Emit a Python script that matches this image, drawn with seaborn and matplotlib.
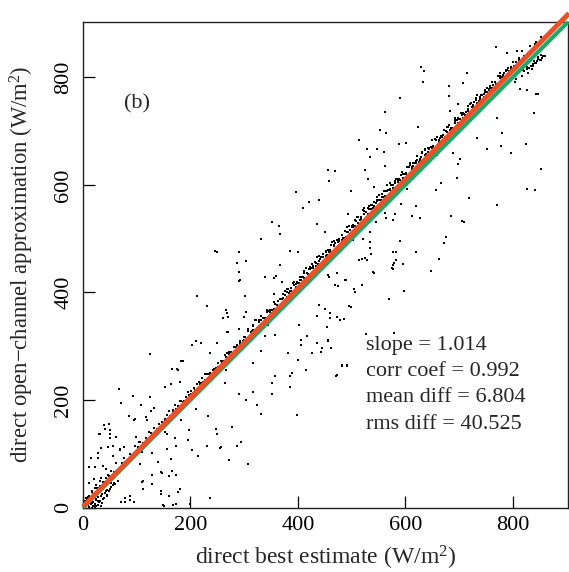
import numpy as np
import pandas as pd
import matplotlib
matplotlib.use("Agg")
import matplotlib.pyplot as plt
import seaborn as sns

# ---------------- data ----------------
# dense band of points hugging (just above) the fit line
band_a_x = [2, 7, 12, 17, 22, 27, 32, 37, 42, 47, 52, 57, 62, 67, 72, 77, 82, 87, 92, 97,
            102, 107, 112, 117, 122, 127, 132, 137, 142, 147, 152, 157, 162, 167, 172, 177, 182, 187, 192, 197,
            202, 207, 212, 217, 222, 227, 232, 237, 242, 247, 252, 257, 262, 267, 272, 277, 282, 287, 292, 297,
            302, 307, 312, 317, 322, 327, 332, 337, 342, 347, 352, 357, 362, 367, 372, 377, 382, 387, 392, 397,
            402, 407, 412, 417, 422, 427, 432, 437, 442, 447, 452, 457, 462, 467, 472, 477, 482, 487, 492, 497,
            502, 507, 512, 517, 522, 527, 532, 537, 542, 547, 552, 557, 562, 567, 572, 577, 582, 587, 592, 597,
            602, 607, 612, 617, 622, 627, 632, 637, 642, 647, 652, 657, 662, 667, 672, 677, 682, 687, 692, 697,
            702, 707, 712, 717, 722, 727, 732, 737, 742, 747, 752, 757, 762, 767, 772, 777,
            782, 787, 792, 797, 802, 807, 812, 817, 822, 827, 832, 837, 842, 847, 852, 857]
band_a_y = [1, 15, 14, 31, 21, 37, 50, 42, 54, 47, 68, 64, 82, 70, 83, 92, 83, 100, 98, 114,
            112, 122, 120, 130, 140, 138, 148, 146, 156, 159, 162, 172, 170, 180, 190, 188, 198, 196, 206, 209,
            212, 222, 220, 230, 240, 238, 248, 246, 256, 259, 262, 272, 270, 280, 290, 288, 298, 296, 306, 309,
            318, 329, 326, 337, 348, 345, 356, 352, 363, 366, 368, 379, 376, 387, 398, 395, 406, 402, 413, 416,
            418, 429, 426, 437, 448, 445, 456, 452, 463, 466, 468, 479, 476, 487, 498, 495, 506, 502, 513, 516,
            522, 534, 530, 541, 553, 549, 561, 556, 568, 570, 572, 584, 580, 591, 603, 599, 611, 606, 618, 620,
            622, 634, 630, 641, 653, 649, 661, 656, 668, 670, 672, 684, 680, 691, 703, 699, 711, 706, 718, 720,
            722, 734, 730, 741, 753, 749, 761, 756, 768, 770, 772, 784, 780, 791, 803, 799,
            804, 801, 817, 806, 822, 797, 836, 803, 840, 819, 858, 821, 863, 835, 875, 839]

band_b_x = [204, 212, 220, 228, 236, 244, 252, 260, 268, 276, 284, 292, 300, 308, 316, 324, 332, 340, 348, 356,
            364, 372, 380, 388, 396,
            404, 412, 420, 428, 436, 444, 452, 460, 468, 476, 484, 492, 500, 508, 516, 524, 532, 540, 548, 556,
            564, 572, 580, 588, 596, 604, 612, 620, 628, 636, 644, 652, 660, 668, 676, 684, 692, 700, 708, 716,
            724, 732, 740, 748, 756, 764, 772, 780, 788,
            796, 804, 812, 820, 828, 836, 844, 852, 860]
band_b_y = [213, 229, 232, 248, 250, 253, 269, 272, 288, 290, 293, 309, 312, 328, 330, 333, 349, 352, 368, 370,
            373, 389, 392, 408, 410,
            423, 440, 443, 445, 466, 465, 477, 479, 496, 499, 501, 522, 521, 533, 535, 552, 555, 557, 578, 577,
            589, 591, 608, 611, 613, 634, 633, 645, 647, 664, 667, 669, 690, 689, 701, 703, 720, 723, 725, 746,
            745, 757, 759, 776, 779, 781, 802, 801, 813,
            816, 792, 836, 814, 846, 821, 866, 842, 840]

band_c_x = [153, 160, 167, 174, 181, 188, 195, 202, 209, 216, 223, 230, 237, 244, 251, 258, 265, 272, 279, 286,
            293,
            300, 307, 314, 321, 328, 335, 342, 349, 356, 363, 370, 377, 384, 391, 398, 405, 412, 419, 426, 433,
            440, 447, 454, 461, 468, 475, 482, 489, 496,
            503, 510, 517, 524, 531, 538, 545, 552, 559, 566, 573, 580, 587, 594, 601, 608, 615, 622, 629, 636,
            643, 650, 657, 664, 671, 678, 685, 692, 699, 706, 713, 720, 727, 734, 741, 748, 755, 762, 769, 776,
            783, 790, 797]
band_c_y = [164, 179, 181, 183, 198, 199, 214, 216, 218, 233, 234, 249, 251, 253, 268, 269, 284, 286, 288, 303,
            304,
            318, 332, 329, 348, 349, 353, 367, 364, 383, 384, 388, 402, 399, 418, 419, 423, 437, 434, 453, 454,
            458, 472, 469, 488, 489, 493, 507, 504, 523,
            525, 540, 536, 557, 557, 562, 567, 582, 578, 599, 599, 604, 609, 624, 620, 641, 641, 646, 651, 666,
            662, 683, 683, 688, 693, 708, 704, 725, 725, 730, 735, 750, 746, 767, 767, 772, 777, 792, 788, 809,
            809, 814, 819]

band_d_x = [380, 386, 392, 398, 404, 410, 416, 422, 428, 434, 440, 446, 452, 458, 464, 470,
            476, 482, 488, 494, 500, 506, 512, 518, 524, 530, 536, 542, 548, 554, 560, 566,
            572, 578, 584, 590, 596, 602, 608, 614, 620, 626, 632, 638, 644, 650, 656, 662,
            668, 674, 680, 686, 692, 698, 704, 710, 716, 722, 728, 734, 740, 746, 752, 758,
            764, 770, 776, 782, 788, 794, 800, 806, 812, 818]
band_d_y = [401, 402, 419, 417, 428, 428, 445, 444, 449, 450, 467, 465, 476, 476, 493, 492,
            497, 498, 515, 513, 524, 524, 541, 540, 545, 546, 563, 561, 572, 572, 589, 588,
            593, 594, 611, 609, 620, 620, 637, 636, 641, 642, 659, 657, 668, 668, 685, 684,
            689, 690, 707, 705, 716, 716, 733, 732, 737, 738, 755, 753, 764, 764, 781, 780,
            785, 786, 803, 801, 812, 812, 829, 828, 833, 834]

# end-of-range cluster lying on / under the 1:1 line
end_x = [822, 826, 830, 834, 838, 842, 846, 850, 854, 858, 828, 836, 844, 852, 840, 848]
end_y = [812, 815, 818, 821, 824, 826, 830, 833, 836, 839, 808, 816, 827, 832, 830, 838]

# clump near the origin
origin_x = [1, 4, 5, 8, 9, 11, 14, 15, 18, 19, 21, 23, 25, 28, 29, 31, 33, 36, 37, 40,
            12, 6, 26, 34, 16, 22, 3, 44, 48, 52, 39, 47, 58,
            2, 6, 10, 13, 17, 20, 24, 27, 30, 35, 38, 42, 45, 50, 55, 3, 7, 12, 16, 19, 24, 28, 32, 41, 46, 53,
            60, 65, 9, 14]
origin_y = [3, 0, 9, 4, 14, 1, 6, 19, 2, 11, 24, 7, 16, 5, 29, 12, 21, 8, 34, 18,
            22, 17, 36, 3, 28, 0, 12, 22, 30, 38, 48, 60, 46,
            6, 2, 4, 17, 9, 3, 14, 20, 10, 26, 15, 31, 24, 35, 41, 1, 11, 8, 0, 25, 2, 12, 40, 27, 52, 45,
            58, 50, 20, 12]

# scattered points away from the line
scatter_x = [629, 634, 769, 715, 590, 681, 813, 843, 553, 513, 624, 528, 547, 535, 752, 779, 797, 688, 702, 853,
             660, 456, 469, 458, 697, 667, 826, 842, 397, 440, 420, 409, 718, 770, 563, 577, 612, 628, 685, 706,
             676, 673, 352, 364, 367, 436, 451, 331, 590, 620, 535, 519, 528, 577, 579, 575, 662, 648, 540, 245,
             290, 287, 304, 290, 385, 401, 359, 391, 404, 458, 470, 487, 520, 504, 597, 569, 439, 450, 436, 479,
             460, 496, 402, 417, 406, 405, 436, 445, 457, 443, 427, 400, 382, 390, 415, 386, 483, 491, 471, 386,
             398, 358, 351, 317, 331, 338, 358, 317, 344, 304, 267, 260, 270, 250, 284, 243, 264, 290, 304, 324,
             331, 287, 294, 308, 272, 277, 247, 249, 257, 233, 211, 215, 230, 237, 200, 173, 166, 173, 161, 146,
             151, 88, 78, 112, 129, 139, 156, 173, 129, 119, 127, 124, 95, 98, 105, 85, 94, 108, 71, 67,
             61, 68, 55, 51, 41, 48, 31, 28, 14, 11, 34, 24, 20, 156, 183, 152, 166, 176, 183, 220,
             210, 213, 230, 249, 267, 317, 351,
             789, 808, 817, 826, 847, 840, 825, 781, 770, 734, 709, 699, 708, 682, 699, 683, 633, 562, 565, 560,
             601, 588, 562, 525, 530, 542, 499, 657, 604, 620, 592, 565, 580, 546, 494, 534, 534, 522, 582, 582,
             595, 514, 525, 537, 503,
             457, 472, 489, 474, 505, 506, 542, 577, 578, 499, 460, 472, 486, 454, 527, 579, 457, 462, 482, 491, 472,
             125, 132, 96, 118, 164, 186, 175, 180, 203, 237, 268, 270, 269, 299, 291, 302, 290, 292, 339, 356,
             367, 371, 356, 380, 388, 255, 197, 196, 203, 172, 153, 163, 145, 128, 146, 149, 167, 161, 177, 181,
             147, 112, 110, 88, 79, 70, 95, 109, 106,
             39, 51, 50, 61, 30, 34, 47, 56, 76, 69, 15, 27, 12, 23, 37, 43, 48, 57, 60, 37, 20, 11, 23, 32, 44]
scatter_y = [820, 812, 856, 808, 761, 784, 778, 769, 703, 684, 708, 667, 666, 651, 667, 672, 660, 659, 649, 630,
             655, 628, 625, 608, 613, 604, 592, 591, 587, 572, 568, 557, 575, 562, 547, 535, 542, 538, 543, 533,
             503, 492, 531, 524, 509, 528, 513, 499, 496, 475, 482, 463, 460, 475, 454, 445, 463, 440, 438, 477,
             475, 454, 458, 421, 477, 475, 431, 418, 424, 428, 414, 424, 414, 407, 403, 387, 377, 370, 357, 348,
             353, 374, 340, 319, 312, 302, 306, 296, 309, 289, 287, 275, 287, 251, 255, 244, 265, 265, 244, 224,
             172, 244, 231, 268, 292, 319, 321, 340, 340, 363, 367, 353, 326, 306, 299, 258, 231, 211, 200, 190,
             173, 115, 122, 81, 88, 149, 146, 136, 112, 170, 183, 95, 115, 17, 7, 7, 68, 61, 58, 31,
             3, 14, 17, 49, 61, 85, 109, 115, 102, 163, 180, 285, 163, 132, 122, 170, 207, 190, 194, 221,
             132, 109, 95, 129, 146, 156, 136, 102, 92, 75, 54, 41, 20, 136, 163, 224, 258, 255, 272, 306,
             309, 394, 374, 475, 255, 214, 211,
             846, 849, 849, 777, 770, 734, 677, 697, 724, 687, 531, 639, 790, 765, 751, 737, 791, 735, 697, 661,
             678, 677, 635, 628, 611, 597, 588, 591, 592, 560, 565, 538, 545, 531, 545, 512, 494, 500, 475, 460,
             453, 461, 464, 472, 497,
             432, 437, 423, 412, 407, 400, 437, 451, 443, 373, 362, 354, 350, 335, 322, 325, 311, 297, 264, 264, 246,
             205, 185, 164, 168, 230, 272, 257, 233, 302, 287, 362, 354, 327, 354, 332, 393, 438, 424, 428, 426,
             451, 419, 398, 406, 408, 110, 145, 125, 107, 130, 140, 91, 66, 44, 26, 4, 5, 22, 29, 35,
             65, 35, 47, 22, 10, 11, 10, 103, 81,
             153, 145, 137, 131, 137, 110, 112, 115, 113, 107, 92, 92, 75, 76, 78, 71, 58, 66, 44, 47, 53, 46, 36, 29, 32]

fit_slope = 1.014
fit_intercept = 1.5
line_x = [0, 905]          # extent of the drawn fit line
ref_x = [0, 903]           # extent of the 1:1 line

stats_lines = ["slope = 1.014", "corr coef = 0.992", "mean diff = 6.804", "rms diff = 40.525"]
x_ticks = [0, 200, 400, 600, 800]
y_ticks = [0, 200, 400, 600, 800]

# ---------------- plotting ----------------
sns.set_style("ticks")
plt.rcParams["font.family"] = ["Liberation Serif", "DejaVu Serif"]
plt.rcParams["mathtext.fontset"] = "custom"
plt.rcParams["mathtext.rm"] = "Liberation Serif"
plt.rcParams["mathtext.it"] = "Liberation Serif:italic"

pts = pd.DataFrame({
    "x": band_a_x + band_b_x + band_c_x + band_d_x + end_x + origin_x + scatter_x,
    "y": band_a_y + band_b_y + band_c_y + band_d_y + end_y + origin_y + scatter_y,
})

fig = plt.figure(figsize=(5.69, 5.72), dpi=100)
ax = fig.add_axes([83 / 569, 1 - 507.5 / 572, 485 / 569, 485.5 / 572])

sns.scatterplot(data=pts, x="x", y="y", ax=ax, marker="s", s=3.6,
                color="black", linewidth=0, legend=False, zorder=2)

ref_df = pd.DataFrame({"x": ref_x, "y": ref_x})
sns.lineplot(data=ref_df, x="x", y="y", ax=ax, color="#1aab68", linewidth=3.0,
             zorder=3, estimator=None, sort=False)
fit_df = pd.DataFrame({"x": line_x,
                       "y": [fit_slope * v + fit_intercept for v in line_x]})
sns.lineplot(data=fit_df, x="x", y="y", ax=ax, color="#ea5129", linewidth=3.6,
             zorder=4, estimator=None, sort=False)
for ln in ax.lines:
    ln.set_clip_on(False)
    ln.set_solid_capstyle("butt")

ax.set_xlim(0, 903)
ax.set_ylim(0, 903)
ax.set_xticks(x_ticks)
ax.set_yticks(y_ticks)
ax.tick_params(direction="in", length=8.5, width=0.9, labelsize=16, colors="black")
ax.tick_params(axis="x", pad=6)
ax.tick_params(axis="y", pad=7, labelrotation=90)
for lab in ax.get_yticklabels():
    lab.set_verticalalignment("center")
for sp in ax.spines.values():
    sp.set_linewidth(1.0)
    sp.set_color("#222222")

ax.set_xlabel(r"direct best estimate (W/m$^{2}$)", fontsize=17)
ax.set_ylabel(r"direct open$-$channel approximation (W/m$^{2}$)", fontsize=16.3)
ax.xaxis.set_label_coords(0.5, -0.074)
ax.yaxis.set_label_coords(-0.097, 0.5)

ax.text(100, 750, "(b)", fontsize=16, ha="center", va="center")
for i, s in enumerate(stats_lines):
    ax.text(527, 302 - 49 * i, s, fontsize=16, ha="left", va="center")

fig.savefig("out.png", dpi=100)
